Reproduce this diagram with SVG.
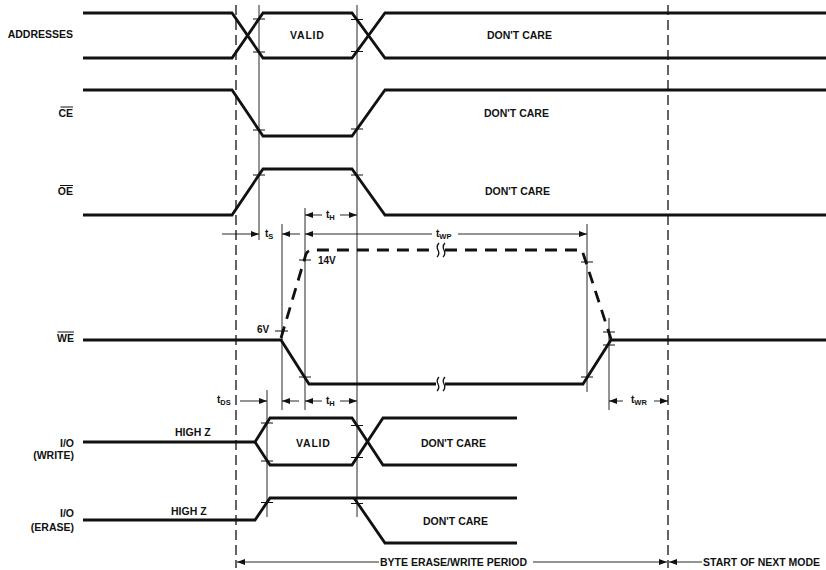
<svg xmlns="http://www.w3.org/2000/svg" width="826" height="570" viewBox="0 0 826 570">
<defs>
<marker id="ah" viewBox="0 0 8 6" refX="8" refY="3" markerWidth="8" markerHeight="6" markerUnits="userSpaceOnUse" orient="auto-start-reverse"><path d="M0,0 L8,3 L0,6 z" fill="#111"/></marker>
<style>
.sig{fill:none;stroke:#111;stroke-width:2.8;stroke-linejoin:miter;stroke-miterlimit:3}
.wdash{fill:none;stroke:#111;stroke-width:2.8;stroke-dasharray:12 8}
.ref{fill:none;stroke:#111;stroke-width:0.9}
.vd{fill:none;stroke:#111;stroke-width:1.3;stroke-dasharray:10 5}
.tick{fill:none;stroke:#111;stroke-width:1}
.dim{fill:none;stroke:#111;stroke-width:0.9}
.brk{fill:none;stroke:#111;stroke-width:1.3}
text{font-family:"Liberation Sans",Arial,sans-serif;font-weight:bold;font-size:10.5px;fill:#111}
.lbl{text-anchor:end}
.sm{font-size:10px}
.sub{font-size:7.5px}
.wide{letter-spacing:0.8px}
</style>
</defs>
<rect width="826" height="570" fill="#fff"/>

<g id="connectors">
<line class="vd" x1="236" y1="5" x2="236" y2="568"/>
<line class="vd" x1="668" y1="5" x2="668" y2="568"/>
<line class="ref" x1="259" y1="5" x2="259" y2="240"/>
<line class="ref" x1="357" y1="5" x2="357" y2="517"/>
<line class="ref" x1="305" y1="208" x2="305" y2="410"/>
<line class="ref" x1="282" y1="224" x2="282" y2="410"/>
<line class="ref" x1="587" y1="224" x2="587" y2="392"/>
<line class="ref" x1="609" y1="318" x2="609" y2="410"/>
<line class="ref" x1="267" y1="390" x2="267" y2="517"/>
<line class="dim" x1="322" y1="215" x2="305" y2="215" marker-end="url(#ah)"/>
<line class="dim" x1="340" y1="215" x2="357" y2="215" marker-end="url(#ah)"/>
<line class="dim" x1="222" y1="234" x2="259" y2="234" marker-end="url(#ah)"/>
<line class="dim" x1="300" y1="234" x2="282" y2="234" marker-end="url(#ah)"/>
<line class="dim" x1="432" y1="234" x2="305" y2="234" marker-end="url(#ah)"/>
<line class="dim" x1="458" y1="234" x2="587" y2="234" marker-end="url(#ah)"/>
<line class="dim" x1="240" y1="401" x2="267" y2="401" marker-end="url(#ah)"/>
<line class="dim" x1="299" y1="401" x2="282" y2="401" marker-end="url(#ah)"/>
<line class="dim" x1="322" y1="401" x2="305" y2="401" marker-end="url(#ah)"/>
<line class="dim" x1="340" y1="401" x2="357" y2="401" marker-end="url(#ah)"/>
<line class="dim" x1="623" y1="401" x2="609" y2="401" marker-end="url(#ah)"/>
<line class="dim" x1="654" y1="401" x2="668" y2="401" marker-end="url(#ah)"/>
<line class="dim" x1="379" y1="562" x2="237" y2="562" marker-end="url(#ah)"/>
<line class="dim" x1="533" y1="562" x2="667" y2="562" marker-end="url(#ah)"/>
<line class="dim" x1="702" y1="562" x2="669" y2="562" marker-end="url(#ah)"/>
</g>

<g id="timing-labels">
<text class="sm" x="326" y="218">t<tspan class="sub" dy="2">H</tspan></text>
<text class="sm" x="265" y="237">t<tspan class="sub" dy="2">S</tspan></text>
<text class="sm" x="436" y="237">t<tspan class="sub" dy="2">WP</tspan></text>
<text class="sm" x="217" y="403">t<tspan class="sub" dy="2">DS</tspan></text>
<text class="sm" x="326" y="404">t<tspan class="sub" dy="2">H</tspan></text>
<text class="sm" x="631" y="403">t<tspan class="sub" dy="2">WR</tspan></text>
<text x="380" y="566">BYTE ERASE/WRITE PERIOD</text>
<text x="703" y="566">START OF NEXT MODE</text>
</g>

<g id="addresses">
<text class="lbl" x="73" y="38">ADDRESSES</text>
<path class="sig" d="M83,13 H232 L263,58 H352 L385,13 H826"/>
<path class="sig" d="M83,58 H232 L263,13 H352 L385,58 H826"/>
<path class="tick" d="M253,19 h12 M253,52 h12 M351,19.5 h12 M351,51.5 h12"/>
<text class="wide" x="290" y="39">VALID</text>
<text x="487" y="39">DON'T CARE</text>
</g>

<g id="ce">
<text class="lbl" x="73" y="117">CE</text>
<line class="tick" x1="60.5" y1="107" x2="73" y2="107"/>
<path class="sig" d="M83,90 H232 L263,136 H352 L385,90 H826"/>
<path class="tick" d="M253,130 h12 M351,129 h12"/>
<text x="484" y="117">DON'T CARE</text>
</g>

<g id="oe">
<text class="lbl" x="73" y="195">OE</text>
<line class="tick" x1="60" y1="185.5" x2="73" y2="185.5"/>
<path class="sig" d="M83,215 H232 L263,169 H352 L385,215 H826"/>
<path class="tick" d="M253,175 h12 M351,175 h12"/>
<text x="485" y="195">DON'T CARE</text>
</g>

<g id="we">
<text class="lbl" x="74" y="342">WE</text>
<line class="tick" x1="57.5" y1="332" x2="74" y2="332"/>
<path class="sig" d="M83,340 H281 L309,384 H436"/>
<path class="sig" d="M445,384 H583 L611,340 H826"/>
<path class="wdash" d="M281,338 L306,254 Q308,250 313,250 H436"/>
<path class="wdash" d="M445,250 H582 L611,339"/>
<path class="brk" d="M439,377 q-3,3 -1,7 q2,4 -1,7 M445,377 q-3,3 -1,7 q2,4 -1,7"/>
<path class="brk" d="M439,243 q-3,3 -1,7 q2,4 -1,7 M445,243 q-3,3 -1,7 q2,4 -1,7"/>
<path class="tick" d="M275,331 h13 M299,260 h12 M299,377 h12 M581,377 h12 M581,262 h12 M603,332 h12 M603,345 h12"/>
<text class="sm" x="318" y="264">14V</text>
<text class="sm" x="257" y="333">6V</text>
</g>

<g id="io-write">
<text class="lbl" x="74" y="447">I/O</text>
<text class="lbl" x="74" y="459">(WRITE)</text>
<text x="175" y="436">HIGH Z</text>
<path class="sig" d="M83,442 H255 L270,418 H352 L383,465 H517"/>
<path class="sig" d="M255,442 L270,465 H352 L383,418 H517"/>
<path class="tick" d="M261,423 h12 M261,461 h12 M351,425.5 h12 M351,457.5 h12"/>
<text class="wide" x="296" y="447">VALID</text>
<text x="421" y="447">DON'T CARE</text>
</g>

<g id="io-erase">
<text class="lbl" x="74" y="517">I/O</text>
<text class="lbl" x="74" y="531">(ERASE)</text>
<text x="171" y="515">HIGH Z</text>
<path class="sig" d="M83,520 H255 L270,498 H517"/>
<path class="sig" d="M354,498 L385,543 H517"/>
<path class="tick" d="M261,502.5 h12 M351,503.5 h12"/>
<text x="423" y="525">DON'T CARE</text>
</g>
</svg>
